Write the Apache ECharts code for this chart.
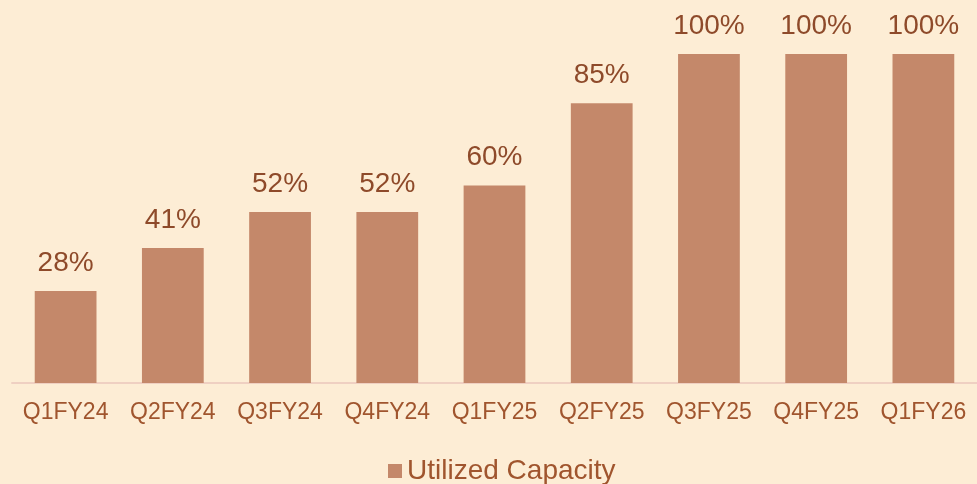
<!DOCTYPE html>
<html>
<head>
<meta charset="utf-8">
<script src="https://cdn.jsdelivr.net/npm/echarts@6/dist/echarts.min.js"></script>
<style>
  html, body { margin: 0; padding: 0; background: #fdedd5; }
  #main { width: 977px; height: 484px; }
</style>
</head>
<body>
<div id="main"></div>
<script>
var categories = ['Q1FY24', 'Q2FY24', 'Q3FY24', 'Q4FY24', 'Q1FY25', 'Q2FY25', 'Q3FY25', 'Q4FY25', 'Q1FY26'];
var utilized = [28, 41, 52, 52, 60, 85, 100, 100, 100];

var myChart = echarts.init(document.getElementById('main'));

var option = {
  backgroundColor: '#fdedd5',
  textStyle: { fontFamily: 'Liberation Sans, Arial, sans-serif' },
  legend: {
    data: ['Utilized Capacity'],
    left: 383,
    top: 452,
    icon: 'rect',
    itemWidth: 14,
    itemHeight: 14,
    itemGap: 10,
    textStyle: { fontSize: 28, color: '#a0552e' }
  },
  grid: {
    left: 12,
    top: 54,
    width: 969,
    height: 329,
    containLabel: false
  },
  xAxis: {
    type: 'category',
    data: categories,
    axisTick: { show: false },
    axisLine: { lineStyle: { color: '#efd0c2', width: 2 } },
    axisLabel: { interval: 0, fontSize: 23, color: '#a0552e', margin: 18 }
  },
  yAxis: {
    type: 'value',
    min: 0,
    max: 100,
    show: false,
    splitLine: { show: false }
  },
  series: [
    {
      name: 'Utilized Capacity',
      type: 'bar',
      data: utilized,
      barWidth: '57.6%',
      itemStyle: { color: '#c4886a' },
      label: {
        show: true,
        position: 'top',
        distance: 14,
        fontSize: 28,
        color: '#8e4a2a',
        formatter: '{c}%'
      }
    }
  ]
};

myChart.setOption(option);
</script>
</body>
</html>
